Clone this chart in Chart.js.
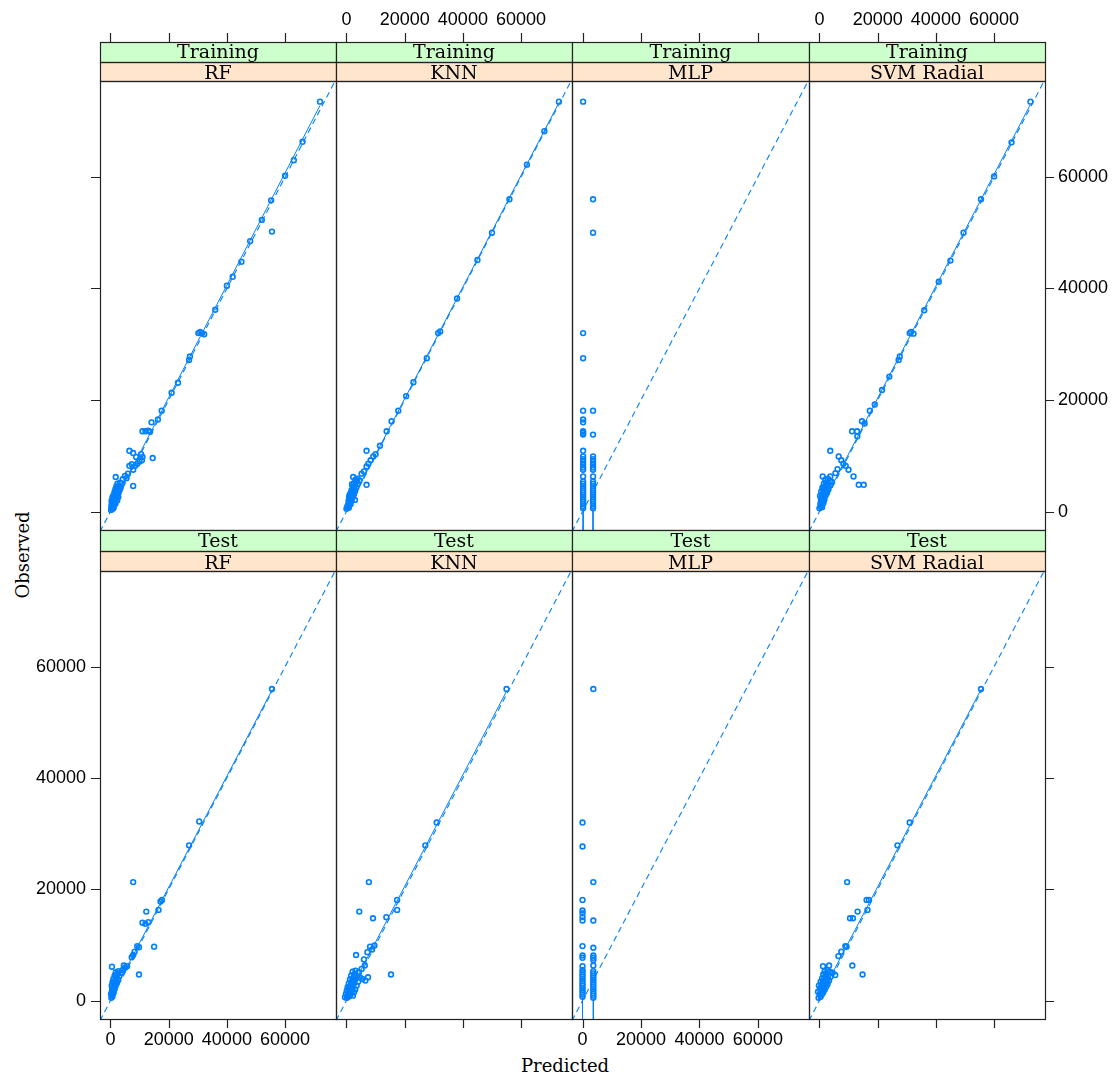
<!DOCTYPE html>
<html>
<head>
<meta charset="utf-8">
<script src="https://cdn.jsdelivr.net/npm/chart.js@4.4.1/dist/chart.umd.min.js"></script>
<style>
  body { margin: 0; background: #fff; }
  #wrap { position: relative; width: 1118px; height: 1079px; }
  #wrap canvas { position: absolute; left: 0; top: 0; }
  .lab { position: absolute; font-family: 'DejaVu Serif', serif; font-size: 18px; color: #000; white-space: nowrap; line-height: 21px; }
</style>
</head>
<body>
<div id="wrap">
  <div class="lab" style="left:0;width:1130px;text-align:center;top:1055px">Predicted</div>
  <div class="lab" style="left:22px;top:555px;transform:translate(-50%,-50%) rotate(-90deg)">Observed</div>
</div>
<script>
// panels: columns = models, rows = data set
const models = ['RF', 'KNN', 'MLP', 'SVM Radial'];
const sets = ['Training', 'Test'];
const ticks = [0, 20000, 40000, 60000];
const xLim = [-3600, 77500];
const yLim = [-3300, 77200];
const refLine = [-10000, 90000]; // y = x

// [predicted, observed]
const trainRF = [
  [200,300],[500,600],[800,500],[300,900],[1000,1100],[600,1400],[1300,1300],[900,1800],[1500,1700],[400,2000],
  [1200,2300],[1800,2100],[700,2600],[1600,2700],[2100,2500],[1100,3000],[1900,3200],[2500,3000],[1400,3500],[2200,3700],
  [2800,3400],[1700,4000],[2600,4200],[3200,3900],[2000,4500],[3000,4600],[3500,4300],[2400,5000],[3300,5200],[3800,5000],
  [600,800],[1100,700],[400,1500],[1700,1400],[800,2200],[2300,2000],[1300,2900],[2700,2600],[1800,3600],[2900,3900],
  [1800,6200],[5000,6400],[7800,4600],[6500,10900],[14500,9600],[14100,16000],[17600,18100],[11000,14400],[12000,14400],
  [13000,14500],[13600,14300],[16300,16500],[4200,5800],[5500,6000],[6000,6800],[6500,8200],[7300,8500],[7800,7500],
  [8500,8200],[9200,8600],[7800,10500],[8800,9800],[10000,9000],[10800,9200],[11000,9800],[10500,10300],[21000,21300],
  [23200,23100],[27000,27200],[27300,27800],[30200,32000],[30800,32200],[31500,32000],[32200,31800],[36000,36200],
  [40000,40500],[42000,42100],[45000,44800],[48000,48500],[52000,52300],[55500,50200],[55200,55800],[60000,60200],
  [63000,63000],[66000,66300],[72000,73500]
];
const trainKNN = [
  [0,500],[300,800],[800,700],[500,1200],[1000,1500],[1400,1300],[700,1900],[1200,2200],[1800,2000],[900,2600],
  [1600,2800],[2200,2600],[1300,3200],[2000,3400],[2600,3100],[1700,3800],[2400,4000],[3000,3700],[2100,4400],[2800,4600],
  [3400,4300],[2600,5100],[3300,5300],[3900,5000],[3100,5700],[3800,5900],[4500,5600],[2900,2100],[2300,6200],[6900,4800],
  [400,1000],[1500,1800],[1000,2900],[2300,3700],[1900,4900],[3500,5500],
  [6900,8100],[9200,9900],[6900,10900],[5200,6800],[6000,7200],[7500,8600],[8300,9200],[10000,10300],[11500,11800],
  [13800,14400],[15500,16200],[17800,18100],[20500,20700],[23000,23200],[27600,27500],[31500,32000],[32200,32300],
  [38000,38200],[45000,45100],[50000,50000],[56000,56000],[62000,62200],[68000,68200],[73000,73500]
];
const trainMLP = [
  [200,73500],[200,32000],[200,27500],[200,18100],[200,16500],[200,16000],[200,14400],[200,14100],[200,13800],[200,10900],
  [200,9900],[200,9400],[200,8900],[200,8400],[200,7900],[200,7500],[200,6300],[200,5400],[200,5000],[200,4600],
  [200,4200],[200,3800],[200,3400],[200,3000],[200,2600],[200,2200],[200,1800],[200,1400],[200,1000],[200,600],
  [3600,56000],[3600,50000],[3600,18100],[3600,13800],[3600,9900],[3600,9400],[3600,8900],[3600,8400],[3600,7900],
  [3600,7500],[3600,6300],[3600,5400],[3600,5000],[3600,4600],[3600,4200],[3600,3800],[3600,3400],[3600,3000],
  [3600,2600],[3600,2200],[3600,1800],[3600,1400],[3600,1000],[3600,600]
];
const trainSVM = [
  [0,600],[400,900],[900,800],[300,1400],[800,1700],[1300,1500],[500,2100],[1100,2400],[1700,2200],[200,2800],
  [900,3000],[1500,3200],[2100,2900],[600,3600],[1300,3800],[2000,3600],[2600,3400],[1000,4300],[1800,4500],[2500,4200],
  [3100,4000],[1500,5000],[2300,5200],[3000,4900],[3700,4700],[2000,5700],[2900,5900],[3600,5500],[4300,5300],
  [600,1100],[1500,1900],[700,2500],[1900,3000],[1400,4100],[2700,4600],
  [1100,6300],[3700,6300],[3700,10900],[6600,9900],[7500,9200],[8200,8600],[9000,8200],[10000,7500],[11700,6300],
  [13500,4800],[15200,4800],[11200,14400],[12900,14400],[14600,16200],[17300,18100],[5500,6900],[6200,7600],[13000,13500],
  [15500,15800],[19000,19200],[21500,21800],[24000,24200],[27200,27200],[27600,27800],[31000,32000],[31500,32200],
  [32300,31900],[36000,36100],[41000,41200],[45000,45000],[49500,50000],[55500,56000],[60000,60100],[66000,66200],
  [72500,73500]
];
const testRF = [
  [300,500],[700,800],[200,1200],[900,1300],[500,1700],[1200,1900],[800,2300],[1500,2200],[400,2700],[1100,2900],
  [1800,2700],[700,3300],[1500,3500],[2200,3200],[1000,3900],[1900,4100],[2600,3800],[1400,4500],[2300,4700],[3000,4400],
  [1800,5100],[2800,5300],[3600,5000],[4200,5500],[500,6100],[4600,6300],[5000,5900],[5700,6200],[9800,4700],[7800,8200],
  [500,1000],[1100,1500],[600,2000],[1400,2600],[1200,3300],[2000,3800],[1700,4300],[2500,4900],
  [7300,7800],[8300,8800],[9200,9800],[9800,9600],[15000,9700],[11000,14000],[12000,13800],[13000,14100],[12300,16000],
  [16500,16300],[17700,18100],[17200,17800],[7800,21300],[27000,27900],[30500,32200],[55500,56000]
];
const testKNN = [
  [-500,600],[200,500],[900,800],[-200,1200],[600,1300],[1400,1100],[2200,900],[100,1800],[900,2000],[1700,1700],
  [2600,1500],[400,2400],[1200,2600],[2000,2300],[3000,2000],[800,3100],[1600,3300],[2500,3000],[3500,2700],[1200,3800],
  [2100,4000],[3000,3700],[4000,3400],[1600,4500],[2600,4700],[3600,4400],[4600,4200],[5500,3900],[6500,3600],[7400,4200],
  [2100,5200],[3100,5400],[4200,5100],[5200,5700],[6300,6300],[3300,8200],[8100,9700],[8800,9200],[9600,9900],[7200,8700],
  [300,900],[1200,1500],[700,2100],[1700,2900],[2500,3600],[3200,4100],
  [6000,7400],[15300,4700],[4400,16000],[9100,14800],[13700,15000],[17400,18100],[17400,16300],[7700,21300],[27100,27900],
  [31000,32000],[55000,56000]
];
const testMLP = [
  [0,32000],[0,27700],[0,18100],[0,16200],[0,15700],[0,15000],[0,14400],[0,9800],[0,8100],[0,7700],[0,6200],[0,5500],
  [0,5100],[0,4700],[0,4300],[0,3900],[0,3500],[0,3100],[0,2700],[0,2300],[0,1900],[0,1500],[0,1100],[0,700],
  [3700,56000],[3700,21300],[3700,14400],[3700,9500],[3700,8100],[3700,7700],[3700,7300],[3700,6300],[3700,5300],
  [3700,4900],[3700,4500],[3700,4100],[3700,3700],[3700,3300],[3700,2900],[3700,2500],[3700,2100],[3700,1700],
  [3700,1300],[3700,900],[3700,500]
];
const testSVM = [
  [-300,500],[400,700],[100,1100],[900,1200],[-500,1600],[500,1700],[1300,1500],[200,2200],[1000,2300],[1800,2000],
  [-200,2700],[700,2900],[1500,2800],[2300,2500],[400,3400],[1200,3500],[2000,3200],[2800,3000],[900,4000],[1700,4200],
  [2500,3900],[3300,3600],[1300,4700],[2200,4900],[3000,4500],[3800,4300],[1800,5300],[2800,5500],[3600,5200],[4500,5000],
  [300,1400],[1200,1900],[600,2500],[1600,3500],[2400,4300],
  [5400,4600],[1200,6200],[3300,6300],[6500,8000],[8900,9800],[9300,9700],[7500,8800],[11300,6300],[14800,4700],
  [10500,14800],[11500,14800],[13100,16000],[16500,16300],[16200,18100],[17000,18100],[9500,21300],[26800,27900],
  [31000,32000],[55500,56000]
];

// fitted segments, [[x0, y0], [x1, y1]]
const fitTrainRF = [[[0, 300], [72000, 72800]]];
const fitTrainKNN = [[[0, 200], [73000, 73300]]];
const fitTrainMLP = [[[200, 400], [200, -5000]], [[3600, 400], [3600, -5000]]];
const fitTrainSVM = [[[0, 300], [72500, 73000]]];
const fitTestRF = [[[0, 400], [55500, 55800]]];
const fitTestKNN = [[[-500, 0], [55000, 55600]]];
const fitTestMLP = [[[0, 500], [0, -5000]], [[3700, 300], [3700, -5000]]];
const fitTestSVM = [[[-500, 0], [55500, 55900]]];

const points = [[trainRF, trainKNN, trainMLP, trainSVM], [testRF, testKNN, testMLP, testSVM]];
const fits = [[fitTrainRF, fitTrainKNN, fitTrainMLP, fitTrainSVM], [fitTestRF, fitTestKNN, fitTestMLP, fitTestSVM]];

const W = 1118, H = 1079;
const BLUE = '#0080ff';
const colL = [100, 336, 572, 809], colR = [336, 572, 809, 1045];
const rowT = [81, 571], rowB = [530, 1019];
const stripG = [42, 530], stripO = [62, 551];
const wrap = document.getElementById('wrap');
const xy = arr => arr.map(([x, y]) => ({ x, y }));

function frame(r, c) {
  return {
    id: 'frame' + r + c,
    afterDraw(chart) {
      const g = chart.ctx, sx = chart.scales.x, sy = chart.scales.y;
      const { left, right, top, bottom } = chart.chartArea;
      const mid = (left + right) / 2;
      g.save();
      // strips
      g.fillStyle = '#ccffcc';
      g.fillRect(left, stripG[r], right - left, stripO[r] - stripG[r]);
      g.fillStyle = '#ffe5cc';
      g.fillRect(left, stripO[r], right - left, top - stripO[r]);
      g.strokeStyle = '#222';
      g.lineWidth = 1.2;
      g.strokeRect(left + 0.5, stripG[r] + 0.5, right - left, stripO[r] - stripG[r]);
      g.strokeRect(left + 0.5, stripO[r] + 0.5, right - left, top - stripO[r]);
      g.strokeRect(left + 0.5, top + 0.5, right - left, bottom - top);
      g.fillStyle = '#000';
      g.font = '19px "DejaVu Serif", serif';
      g.textAlign = 'center';
      g.textBaseline = 'alphabetic';
      g.fillText(sets[r], mid, stripO[r] - 4.5);
      g.fillText(models[c], mid, top - 2);
      // ticks
      g.font = '18px "Liberation Sans", sans-serif';
      g.textBaseline = 'middle';
      g.beginPath();
      ticks.forEach(v => {
        const px = Math.round(sx.getPixelForValue(v)) + 0.5;
        const py = Math.round(sy.getPixelForValue(v)) + 0.5;
        if (r === 0) { g.moveTo(px, stripG[r]); g.lineTo(px, stripG[r] - 9); }
        else { g.moveTo(px, bottom); g.lineTo(px, bottom + 9); }
        if (c === 0) { g.moveTo(left, py); g.lineTo(left - 9, py); }
        if (c === 3) { g.moveTo(right, py); g.lineTo(right + 9, py); }
      });
      g.stroke();
      ticks.forEach(v => {
        const px = sx.getPixelForValue(v), py = sy.getPixelForValue(v);
        g.textAlign = 'center';
        if (r === 0 && c % 2 === 1) g.fillText(String(v), px, 20);
        if (r === 1 && c % 2 === 0) g.fillText(String(v), px, 1040);
        if (r === 1 && c === 0) { g.textAlign = 'right'; g.fillText(String(v), left - 14, py); }
        if (r === 0 && c === 3) { g.textAlign = 'left'; g.fillText(String(v), right + 13, py); }
      });
      g.restore();
    }
  };
}

sets.forEach((set, r) => models.forEach((model, c) => {
  const cv = document.createElement('canvas');
  cv.width = W; cv.height = H;
  wrap.appendChild(cv);
  const datasets = [{
    data: xy(points[r][c]),
    borderColor: BLUE,
    backgroundColor: 'rgba(0,0,0,0)',
    borderWidth: 1.6,
    pointRadius: 2.4,
    pointHoverRadius: 2.4
  }, {
    data: xy([[refLine[0], refLine[0]], [refLine[1], refLine[1]]]),
    showLine: true,
    borderColor: BLUE,
    borderWidth: 1.1,
    borderDash: [6, 4],
    pointRadius: 0,
    fill: false
  }];
  fits[r][c].forEach(seg => datasets.push({
    data: xy(seg),
    showLine: true,
    borderColor: BLUE,
    borderWidth: 1,
    pointRadius: 0,
    fill: false
  }));
  new Chart(cv, {
    type: 'scatter',
    data: { datasets },
    options: {
      responsive: false,
      animation: false,
      devicePixelRatio: 1,
      layout: { padding: { left: colL[c], right: W - colR[c], top: rowT[r], bottom: H - rowB[r] } },
      scales: {
        x: { type: 'linear', display: false, min: xLim[0], max: xLim[1] },
        y: { type: 'linear', display: false, min: yLim[0], max: yLim[1] }
      },
      plugins: { legend: { display: false }, tooltip: { enabled: false } }
    },
    plugins: [frame(r, c)]
  });
}));
</script>
</body>
</html>
